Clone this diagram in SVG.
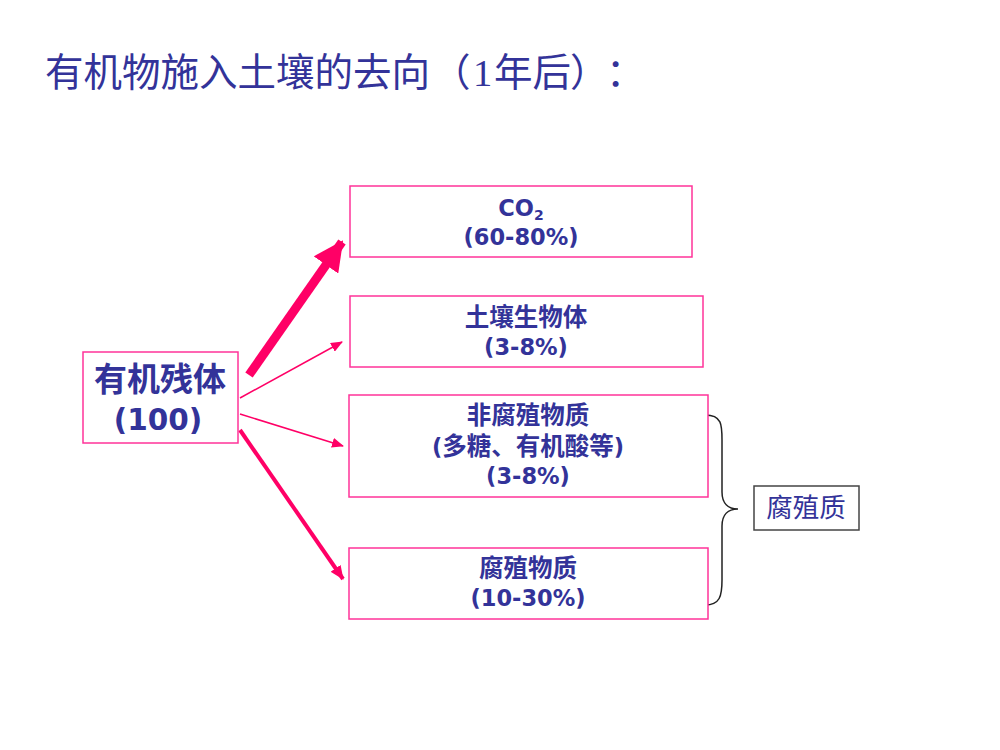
<svg xmlns="http://www.w3.org/2000/svg" width="1000" height="750" viewBox="0 0 1000 750">
<style>
.t{fill:#333399;}
.cj{font-family:"Noto Sans CJK SC",sans-serif;}
.la{font-family:"DejaVu Sans","Noto Sans CJK SC",sans-serif;}
.b{font-weight:bold;text-anchor:middle;}
.s1{font-size:24.5px;}
.s2{font-size:22.5px;}
.box{fill:#fff;stroke:#FF3399;stroke-width:1.5;}
.ar{stroke:#FF0066;fill:none;}
</style>
<defs>
<marker id="hBig" markerUnits="userSpaceOnUse" viewBox="0 0 30 30" refX="28" refY="15" markerWidth="30" markerHeight="30" orient="auto"><path d="M0,0 L30,15 L0,30 Z" fill="#FF0066"/></marker>
<marker id="hSmall" markerUnits="userSpaceOnUse" viewBox="0 0 12 10" refX="11" refY="5" markerWidth="12" markerHeight="10" orient="auto"><path d="M0,0 L12,5 L0,10 Z" fill="#FF0066"/></marker>
<marker id="hMid" markerUnits="userSpaceOnUse" viewBox="0 0 14 12" refX="13" refY="6" markerWidth="14" markerHeight="12" orient="auto"><path d="M0,0 L14,6 L0,12 Z" fill="#FF0066"/></marker>
</defs>
<rect width="1000" height="750" fill="#fff"/>
<text class="t cj" x="45" y="86" style="font-size:38.5px;text-spacing-trim:space-all">有机物施入土壤的去向<tspan x="432">（</tspan><tspan x="473" style="font-family:'Liberation Serif',serif">1</tspan><tspan x="494">年后</tspan><tspan x="570">）</tspan><tspan x="606">：</tspan></text>

<g id="connectors">
<line class="ar" x1="249" y1="375" x2="342" y2="242" stroke-width="9" marker-end="url(#hBig)"/>
<line class="ar" x1="240" y1="398" x2="342" y2="342" stroke-width="1.5" marker-end="url(#hSmall)"/>
<line class="ar" x1="240" y1="414" x2="343" y2="446" stroke-width="1.5" marker-end="url(#hSmall)"/>
<line class="ar" x1="240" y1="430" x2="343" y2="579" stroke-width="4" marker-end="url(#hMid)"/>
<path d="M705,415 C722,415 722,425 722,440 L722,492 C722,503 728,509 738,509 C728,509 722,515 722,526 L722,580 C722,596 720,605 705,605" fill="none" stroke="#222" stroke-width="1.5"/>
</g>

<g id="residue">
<rect class="box" x="83" y="352" width="155" height="91"/>
<text class="t cj b" x="160" y="391" style="font-size:33px">有机残体</text>
<text class="t la b" x="158" y="430" style="font-size:29.5px">(100)</text>
</g>

<g id="co2">
<rect class="box" x="350" y="186" width="342" height="71"/>
<text class="t la b s2" x="521" y="216">CO<tspan style="font-size:14px" dy="4">2</tspan></text>
<text class="t la b s2" x="521" y="245">(60-80%)</text>
</g>

<g id="biomass">
<rect class="box" x="350" y="296" width="353" height="71"/>
<text class="t cj b s1" x="526" y="326">土壤生物体</text>
<text class="t la b s2" x="526" y="355">(3-8%)</text>
</g>

<g id="nonhumic">
<rect class="box" x="349" y="395" width="359" height="102"/>
<text class="t cj b s1" x="528" y="424">非腐殖物质</text>
<text class="t cj b s1" x="528" y="455"><tspan class="la s2">(</tspan>多糖、有机酸等<tspan class="la s2">)</tspan></text>
<text class="t la b s2" x="528" y="484">(3-8%)</text>
</g>

<g id="humic">
<rect class="box" x="349" y="548" width="359" height="71"/>
<text class="t cj b s1" x="528" y="577">腐殖物质</text>
<text class="t la b s2" x="528" y="606">(10-30%)</text>
</g>

<g id="humus">
<rect x="754" y="486" width="105" height="44" fill="#fff" stroke="#444" stroke-width="1.5"/>
<text class="t cj" x="806" y="517" style="font-size:26.5px;text-anchor:middle">腐殖质</text>
</g>
</svg>
